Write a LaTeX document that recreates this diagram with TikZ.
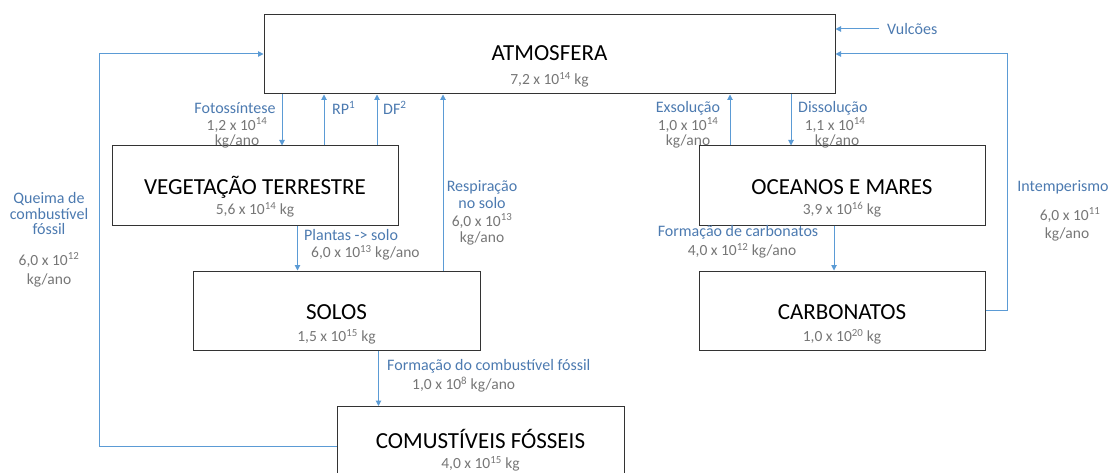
\documentclass[tikz,border=0pt]{standalone}
\usepackage{fontspec}
\setmainfont{Carlito}
\usetikzlibrary{arrows.meta}
\definecolor{flow}{RGB}{91,155,213}
\definecolor{flowtext}{RGB}{76,122,176}
\definecolor{qty}{RGB}{118,118,118}
\newcommand{\dez}[1]{10\textsuperscript{#1}}
\tikzset{
  resbox/.style={draw=black!80, line width=1pt, inner sep=0pt,
    minimum height=79pt, minimum width=#1},
  titulo/.style={inner sep=0pt, font=\fontsize{23}{26}\selectfont, text=black},
  massa/.style={inner sep=0pt, font=\fontsize{15.5}{17}\selectfont, text=qty},
  rotulo/.style={inner sep=0pt, font=\fontsize{16}{18}\selectfont, text=flowtext},
  valor/.style={inner sep=0pt, font=\fontsize{15.5}{17}\selectfont, text=qty},
  fluxo/.style={draw=flow, line width=1pt, -{Triangle[length=5.5pt,width=5.5pt]}},
}
\begin{document}
\begin{tikzpicture}[x=1pt,y=-1pt]
\useasboundingbox (0,0) rectangle (1113,473);

% reservoirs
\node[resbox=571pt] (atm)  at (549.5,54.5) {};
\node[resbox=286pt] (veg)  at (255,185.5) {};
\node[resbox=287pt] (sol)  at (336.5,310.5) {};
\node[resbox=287pt] (comb) at (480.5,446) {};
\node[resbox=286pt] (oce)  at (842,185.5) {};
\node[resbox=286pt] (carb) at (842,310.5) {};

% reservoir names and masses
\node[titulo] (atmT)  at (549.5,53) {ATMOSFERA};
\node[massa]  (atmM)  at (549.5,80) {7,2 x \dez{14} kg};
\node[titulo] (vegT)  at (255,187) {VEGETAÇÃO TERRESTRE};
\node[massa]  (vegM)  at (255,210) {5,6 x \dez{14} kg};
\node[titulo] (solT)  at (336.5,312) {SOLOS};
\node[massa]  (solM)  at (336.5,337) {1,5 x \dez{15} kg};
\node[titulo] (combT) at (480.5,439) {COMUSTÍVEIS FÓSSEIS};
\node[massa]  (combM) at (480.5,464) {4,0 x \dez{15} kg};
\node[titulo] (oceT)  at (842,187) {OCEANOS E MARES};
\node[massa]  (oceM)  at (842,210) {3,9 x \dez{16} kg};
\node[titulo] (carbT) at (842,312) {CARBONATOS};
\node[massa]  (carbM) at (842,337) {1,0 x \dez{20} kg};

% x positions of the vertical flows
\coordinate (xfoto) at (282,0);
\coordinate (xrp)   at (324,0);
\coordinate (xdf)   at (377,0);
\coordinate (xresp) at (443,0);
\coordinate (xpl)   at (297.5,0);
\coordinate (xfc)   at (378.5,0);
\coordinate (xexs)  at (730,0);
\coordinate (xdis)  at (791,0);
\coordinate (xcb)   at (834,0);
\coordinate (qtop)  at (99,54);
\coordinate (itop)  at (1007,54);

% flows
\draw[fluxo] (atm.south -| xfoto) -- (veg.north -| xfoto);
\draw[fluxo] (veg.north -| xrp) -- (atm.south -| xrp);
\draw[fluxo] (veg.north -| xdf) -- (atm.south -| xdf);
\draw[fluxo] (sol.north -| xresp) -- (atm.south -| xresp);
\draw[fluxo] (veg.south -| xpl) -- (sol.north -| xpl);
\draw[fluxo] (sol.south -| xfc) -- (comb.north -| xfc);
\draw[fluxo] (comb.west) -| (qtop) -- (atm.west |- qtop);
\draw[fluxo] (oce.north -| xexs) -- (atm.south -| xexs);
\draw[fluxo] (atm.south -| xdis) -- (oce.north -| xdis);
\draw[fluxo] (oce.south -| xcb) -- (carb.north -| xcb);
\draw[fluxo] (carb.east) -| (itop) -- (atm.east |- itop);

% flow labels
\node[rotulo] (fotoL) at (235,108) {Fotossíntese};
\node[valor]  (fotoV) at (237,125) {1,2 x \dez{14}};
\node[valor]  (fotoU) at (237,141) {kg/ano};
\node[rotulo, anchor=west] (rpL) at (332,108) {RP\textsuperscript{1}};
\node[rotulo, anchor=west] (dfL) at (383,108) {DF\textsuperscript{2}};

\node[rotulo] (respL1) at (482,187) {Respiração};
\node[rotulo] (respL2) at (482,203) {no solo};
\node[valor]  (respV)  at (482,221) {6,0 x \dez{13}};
\node[valor]  (respU)  at (482,238) {kg/ano};

\node[rotulo] (qL1) at (49,199) {Queima de};
\node[rotulo] (qL2) at (49,214) {combustível};
\node[rotulo] (qL3) at (49,229) {fóssil};
\node[valor]  (qV)  at (49,260) {6,0 x \dez{12}};
\node[valor]  (qU)  at (49,280) {kg/ano};

\node[rotulo, anchor=west] (plL) at (304,235) {Plantas -> solo};
\node[valor,  anchor=west] (plV) at (311,253) {6,0 x \dez{13} kg/ano};

\node[rotulo, anchor=west] (fcL) at (387,366) {Formação do combustível fóssil};
\node[valor,  anchor=west] (fcV) at (412,385) {1,0 x \dez{8} kg/ano};

\node[rotulo] (exsL) at (688,108) {Exsolução};
\node[valor]  (exsV) at (688,125) {1,0 x \dez{14}};
\node[valor]  (exsU) at (688,141) {kg/ano};

\node[rotulo, anchor=west] (disL) at (798,108) {Dissolução};
\node[valor]  (disV) at (835,125) {1,1 x \dez{14}};
\node[valor]  (disU) at (837,141) {kg/ano};

\node[rotulo] (intL) at (1063,187) {Intemperismo};
\node[valor]  (intV) at (1070,215) {6,0 x \dez{11}};
\node[valor]  (intU) at (1067,234) {kg/ano};

\node[rotulo] (fcbL) at (738,232) {Formação de carbonatos};
\node[valor]  (fcbV) at (742,251) {4,0 x \dez{12} kg/ano};

\node[rotulo, anchor=west] (vulL) at (887,29) {Vulcões};
\draw[fluxo] ([xshift=-8pt]vulL.west) -- (atm.east |- vulL.west);
\end{tikzpicture}
\end{document}
